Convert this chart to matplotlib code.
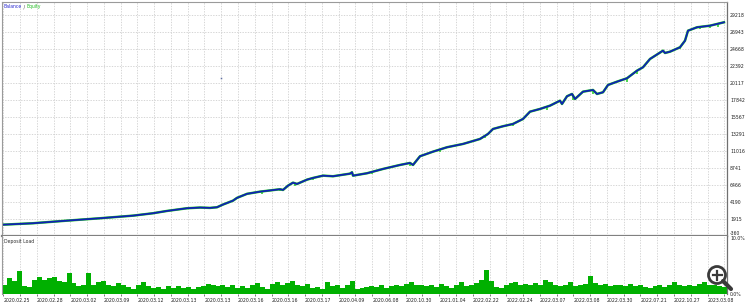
"""
Strategy tester report graph: balance / equity curve and deposit load
"""
import matplotlib.pyplot as plt
import numpy as np
from matplotlib.lines import Line2D
from matplotlib.patches import Circle

# balance curve (deal number -> balance)
deal_no = [0, 31, 65, 98, 131, 151, 165, 185, 198, 208, 215, 221, 231, 235, 245,
           258, 278, 281, 286, 291, 295, 305, 311, 321, 331, 348, 350, 351, 365,
           381, 398, 408, 411, 418, 431, 445, 461, 478, 486, 491, 501, 511, 521,
           528, 538, 548, 558, 560, 565, 570, 573, 581, 591, 595, 601, 606, 615,
           625, 635, 641, 648, 661, 663, 668, 678, 683, 686, 695, 708, 722]
balance = [1150, 1347, 1695, 2016, 2364, 2685, 2993, 3354, 3447, 3400, 3487, 3849,
           4371, 4742, 5283, 5575, 5896, 5803, 6378, 6779, 6605, 7181, 7408, 7716,
           7636, 7984, 8171, 7716, 8037, 8613, 9148, 9416, 9148, 10312, 10928,
           11517, 11958, 12627, 13296, 13965, 14327, 14634, 15303, 16280, 16641,
           17083, 17749, 17310, 18340, 18648, 17979, 18955, 19183, 18648, 18875,
           19852, 20294, 20750, 21765, 22220, 23331, 24441, 24134, 24307, 24896,
           25779, 27117, 27572, 27786, 28241]

# equity drawdowns below the balance line
dip_deal = [210, 260, 278, 293, 311, 323, 370, 408, 438, 483, 511, 545, 571, 591,
            625, 635, 646, 678, 698, 708, 716]
dip_top = [3420, 5590, 5896, 6700, 7408, 7700, 8200, 9416, 11200, 13100, 14634,
           16950, 18400, 19183, 20750, 21765, 23100, 24896, 27620, 27786, 28000]
dip_low = [3250, 5250, 5600, 6380, 7180, 7500, 8000, 9060, 10850, 12760, 14330,
           16550, 17850, 18650, 20250, 21320, 22890, 24670, 27345, 27440, 27570]

stray_deal = [219]
stray_value = [20788]

# deposit load, %
deposit_load = [
    1.5, 2.8, 2.2, 3.9, 1.3, 1.2, 2.5, 2.9, 2.5, 2.8,
    2.9, 2.2, 2.1, 3.7, 1.9, 1.3, 1.6, 3.7, 1.5, 2.1,
    2.2, 1.5, 1.3, 1.9, 1.6, 1.2, 0.8, 1.6, 2.1, 1.3,
    1.1, 1.2, 0.9, 1.3, 1.1, 1.3, 1.1, 1.2, 0.9, 1.2,
    1.3, 1.8, 1.5, 1.3, 1.6, 1.2, 1.5, 1.1, 1.3, 1.1,
    1.6, 1.9, 1.2, 0.9, 1.8, 2.1, 1.6, 1.9, 2.2, 1.5,
    1.3, 1.8, 1.1, 1.2, 0.9, 2.1, 1.3, 1.6, 1.1, 1.5,
    2.2, 0.8, 1.1, 1.2,
    1.3, 1.2, 1.5, 1.1, 1.3, 1.5, 1.3, 1.8, 2.1, 1.5,
    1.6, 1.3, 1.5, 1.2, 1.8, 1.3, 1.1, 1.6, 2.1, 1.3,
    1.6, 1.9, 2.5, 4.1, 2.2, 1.2, 1.1, 1.5, 1.9, 2.1,
    1.6, 1.8, 1.5, 1.9, 1.6, 2.5, 2.1, 1.6, 1.3, 1.5,
    2.1, 1.3, 1.6, 1.8, 3.1, 1.9, 1.5, 1.8, 1.3, 1.5,
    1.6, 1.3, 1.8, 1.3, 1.5, 1.2, 1.1, 1.3, 1.5, 1.2,
    1.6, 2.1, 1.5, 1.3, 1.6, 1.3, 1.8, 2.1, 1.5, 1.6,
    1.3, 1.2,
]

y_ticks = [-360, 1915, 4190, 6466, 8741, 11016, 13291, 15567, 17842, 20117,
           22392, 24668, 26943, 29218]
date_labels = ["2020.02.25", "2020.02.28", "2020.03.02", "2020.03.09", "2020.03.12",
               "2020.03.13", "2020.03.13", "2020.03.16", "2020.03.16", "2020.03.17",
               "2020.04.09", "2020.06.08", "2020.10.30", "2021.01.04", "2022.02.22",
               "2022.02.24", "2022.03.07", "2022.03.08", "2022.03.30", "2022.07.21",
               "2022.10.27", "2023.03.08"]

W, H = 750, 303
N_DEALS = 725
GRID_STEP = 16.77
FS = 3.3
GRID_KW = dict(color="#cfcfcf", linestyle=(0, (1.6, 1.6)), linewidth=0.6)


def px_rect(x0, y0, x1, y1):
    return [x0 / W, 1 - y1 / H, (x1 - x0) / W, (y1 - y0) / H]


fig = plt.figure(figsize=(W / 100, H / 100), dpi=100)
ax = fig.add_axes(px_rect(2, 2, 727, 236))
ax2 = fig.add_axes(px_rect(2, 236, 727, 294))

grid_x = 1.2 + GRID_STEP * np.arange(44)

# --- balance / equity ---
ax.plot(deal_no, balance, color="#22cc22", lw=1.8, solid_joinstyle="round")
ax.vlines(dip_deal, dip_low, dip_top, color="#22cc22", lw=1.1)
ax.plot(deal_no, balance, color="#1020b4", lw=1.3, solid_joinstyle="round")
ax.plot(stray_deal, stray_value, "s", ms=1.1, color="#6070a0", mew=0)

ax.set_xlim(0, N_DEALS)
ax.set_ylim(-360, 30955)
ax.set_xticks(grid_x)
ax.set_yticks(y_ticks, [str(v) for v in y_ticks])
ax.yaxis.tick_right()
ax.tick_params(axis="x", length=0, labelbottom=False)
ax.tick_params(axis="y", length=0, pad=2.2, labelsize=FS, labelcolor="#202020")
ax.get_yticklabels()[0].set_va("bottom")
ax.grid(**GRID_KW)
ax.set_axisbelow(True)
for side in ("left", "top"):
    ax.spines[side].set_color("#9a9a9a")
    ax.spines[side].set_linewidth(0.8)
ax.spines["right"].set_color("#707070")
ax.spines["right"].set_linewidth(0.9)
ax.spines["bottom"].set_color("#808080")
ax.spines["bottom"].set_linewidth(1.6)

t1 = ax.annotate("Balance", xy=(0, 1), xycoords="axes fraction", xytext=(1.2, -1.6),
                 textcoords="offset points", ha="left", va="top",
                 fontsize=FS, color="#2a2ad0")
t2 = ax.annotate(" / ", xy=(1, 0), xycoords=t1, ha="left", va="bottom",
                 fontsize=FS, color="#404040")
ax.annotate("Equity", xy=(1, 0), xycoords=t2, ha="left", va="bottom",
            fontsize=FS, color="#22bb22")

# --- deposit load ---
step = N_DEALS / len(deposit_load)
load_x = np.arange(len(deposit_load)) * step
ax2.bar(load_x, deposit_load, width=step, align="edge", color="#00b000", lw=0)
ax2.set_xlim(0, N_DEALS)
ax2.set_ylim(0, 10)
ax2.set_xticks(grid_x, [date_labels[k // 2] if k % 2 == 0 else "" for k in range(44)])
for lab in ax2.get_xticklabels():
    lab.set_ha("left")
ax2.set_yticks([0, 10], ["0.0%", "10.0%"])
ax2.yaxis.tick_right()
ylabs = ax2.get_yticklabels()
ylabs[0].set_va("center")
ylabs[1].set_va("top")
ax2.tick_params(axis="x", length=1.6, width=0.5, color="#404040", pad=1.2,
                labelsize=FS, labelcolor="#202020")
ax2.tick_params(axis="y", length=0, pad=2.2, labelsize=FS, labelcolor="#202020")
ax2.grid(axis="x", **GRID_KW)
ax2.set_axisbelow(True)
ax2.spines["top"].set_visible(False)
ax2.spines["bottom"].set_visible(False)
ax2.spines["left"].set_color("#9a9a9a")
ax2.spines["left"].set_linewidth(0.8)
ax2.spines["right"].set_color("#707070")
ax2.spines["right"].set_linewidth(0.9)
ax2.annotate("Deposit Load", xy=(0, 1), xycoords="axes fraction", xytext=(1.2, -2.0),
             textcoords="offset points", ha="left", va="top",
             fontsize=FS, color="#303030")

# --- zoom icon overlay ---
ov = fig.add_axes([0, 0, 1, 1])
ov.set_xlim(0, W)
ov.set_ylim(H, 0)
ov.axis("off")
ov.add_line(Line2D([723, 731], [281, 289], color="#3a3a3a", lw=3.0,
                   solid_capstyle="round"))
ov.add_patch(Circle((717, 275), 8.5, facecolor="white", alpha=0.75, lw=0))
ov.add_patch(Circle((717, 275), 8.5, facecolor="none", edgecolor="#3a3a3a", lw=2.0))
ov.add_line(Line2D([712.5, 721.5], [275, 275], color="#3a3a3a", lw=1.6))
ov.add_line(Line2D([717, 717], [270.5, 279.5], color="#3a3a3a", lw=1.6))

fig.savefig("out.png", dpi=100, facecolor="white")
